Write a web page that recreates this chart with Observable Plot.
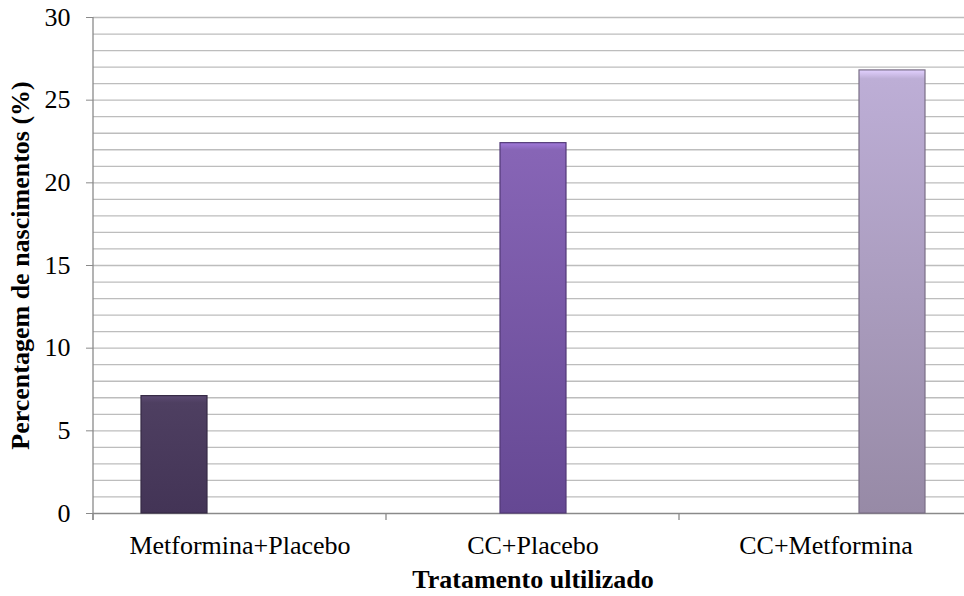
<!DOCTYPE html>
<html>
<head>
<meta charset="utf-8">
<script src="https://cdn.jsdelivr.net/npm/d3@7"></script>
<script src="https://cdn.jsdelivr.net/npm/@observablehq/plot@0.6"></script>
<style>
  html, body { margin: 0; padding: 0; background: white; }
  #defs { position: absolute; width: 0; height: 0; }
</style>
</head>
<body>
<svg id="defs"></svg>
<div id="chart"></div>
<script>
const categories = ["Metformina+Placebo", "CC+Placebo", "CC+Metformina"];
const values = [7.1, 22.4, 26.8];
const yTicks = [0, 5, 10, 15, 20, 25, 30];
const gridValues = d3.range(1, 31);
const topColors = ["#4e3f61", "#8765b6", "#bdaed6"];
const bottomColors = ["#433456", "#654893", "#978aa6"];
const yTitle = "Percentagem de nascimentos (%)";
const xTitle = "Tratamento ultilizado";

const rows = categories.map((cat, i) => ({cat, value: values[i]}));

// gradients for the bars
const defs = d3.select("#defs").append("defs");
categories.forEach((c, i) => {
  const g = defs.append("linearGradient").attr("id", "grad" + i)
    .attr("x1", 0).attr("y1", 0).attr("x2", 0).attr("y2", 1);
  g.append("stop").attr("offset", "0%").attr("stop-color", d3.color(topColors[i]).brighter(0.5).formatHex());
  g.append("stop").attr("offset", i === 0 ? "6%" : "2%").attr("stop-color", topColors[i]);
  g.append("stop").attr("offset", "100%").attr("stop-color", bottomColors[i]);
});

const chart = Plot.plot({
  width: 964,
  height: 596,
  marginTop: 17,
  marginBottom: 83,
  marginLeft: 93,
  marginRight: -8,
  style: {fontFamily: "'Liberation Serif', 'Times New Roman', serif", fontSize: "26px", color: "black", background: "white"},
  fx: {domain: categories, padding: 0},
  x: {domain: categories, paddingInner: 0, paddingOuter: 0.703, axis: null},
  y: {domain: [0, 30], axis: null},
  color: {domain: categories, range: categories.map((d, i) => `url(#grad${i})`)},
  marks: [
    Plot.gridY(gridValues, {stroke: "#bdbdbd", strokeOpacity: 1, strokeWidth: 1.3}),
    Plot.ruleY([0], {stroke: "#8a8a8a", strokeWidth: 1.3}),
    Plot.barY(rows, {
      fx: "cat", x: "cat", y: "value", fill: "cat",
      stroke: (d) => d3.color(bottomColors[categories.indexOf(d.cat)]).darker(0.6).formatHex(),
      strokeWidth: 1.2
    }),
    Plot.axisY(yTicks, {tickSize: 7, tickPadding: 16, fontSize: 26, stroke: "#8a8a8a", fill: "black", label: null}),
    Plot.axisFx({anchor: "bottom", tickSize: 0, tickPadding: 22, fontSize: 26, label: null}),
    Plot.text([yTitle], {frameAnchor: "left", textAnchor: "middle", lineAnchor: "middle", rotate: -90, dx: -73, fontWeight: "bold", fontSize: 26, facetAnchor: "left"}),
    Plot.text([xTitle], {fx: [categories[1]], frameAnchor: "bottom", textAnchor: "middle", dy: 74, fontWeight: "bold", fontSize: 26})
  ]
});

// category boundary ticks and the value axis line, placed from the scales
const fxS = chart.scale("fx");
const yS = chart.scale("y");
const svg = d3.select(chart);
const y0 = yS.apply(0);
const g = svg.append("g").attr("stroke", "#8a8a8a").attr("stroke-width", 1.3);
categories.forEach(cat => {
  const x0 = fxS.apply(cat);
  g.append("line").attr("x1", x0).attr("x2", x0).attr("y1", y0).attr("y2", y0 + 7);
});
const xLeft = fxS.apply(categories[0]);
g.append("line").attr("x1", xLeft).attr("x2", xLeft).attr("y1", yS.apply(30)).attr("y2", y0 + 7);

document.getElementById("chart").append(chart);
</script>
</body>
</html>
